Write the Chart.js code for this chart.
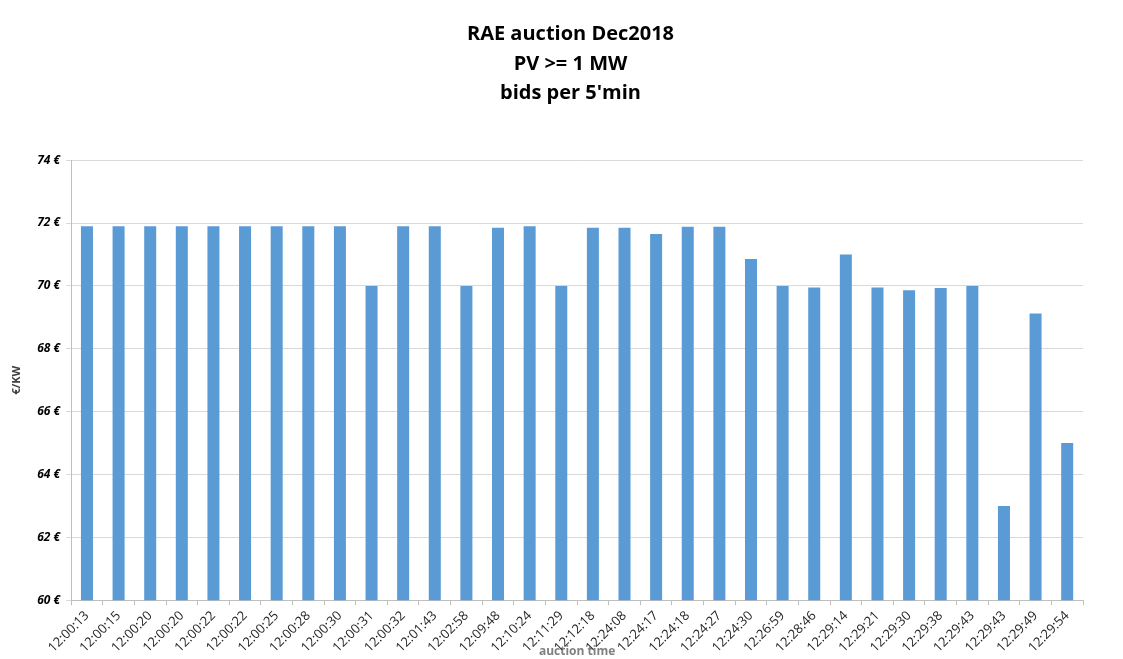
<!DOCTYPE html>
<html>
<head>
    <title>RAE auction Dec2018</title>
    <style type="text/css">
        body { margin: 0; background: #ffffff; }
        #wrap { width: 1123px; height: 659px; position: relative; }
    </style>
</head>
<body>
    <div id="wrap"><canvas id="chartContainer"></canvas></div>
    <script src="https://cdn.jsdelivr.net/npm/chart.js@4.4.0/dist/chart.umd.min.js"></script>
    <script>
        var bidTimes = ['12:00:13', '12:00:15', '12:00:20', '12:00:20', '12:00:22', '12:00:22', '12:00:25', '12:00:28',
            '12:00:30', '12:00:31', '12:00:32', '12:01:43', '12:02:58', '12:09:48', '12:10:24', '12:11:29',
            '12:12:18', '12:24:08', '12:24:17', '12:24:18', '12:24:27', '12:24:30', '12:26:59', '12:28:46',
            '12:29:14', '12:29:21', '12:29:30', '12:29:38', '12:29:43', '12:29:43', '12:29:49', '12:29:54'];
        var bidPrices = [71.9, 71.9, 71.9, 71.9, 71.9, 71.9, 71.9, 71.9,
            71.9, 70.0, 71.9, 71.9, 70.0, 71.85, 71.9, 70.0,
            71.85, 71.85, 71.65, 71.88, 71.88, 70.86, 70.0, 69.95,
            71.0, 69.95, 69.86, 69.93, 70.0, 63.0, 69.12, 65.0];
        var titleLines = ['RAE auction Dec2018', 'PV >= 1 MW', "bids per 5'min"];
        var yMin = 60, yMax = 74, yStep = 2;

        // excel centres the title a bit right of the canvas middle
        var titleShift = {
            id: 'titleShift',
            afterLayout: function (chart) {
                if (chart.titleBlock) {
                    chart.titleBlock.left += 24;
                    chart.titleBlock.right += 24;
                }
            }
        };

        var ctx = document.getElementById('chartContainer').getContext('2d');
        new Chart(ctx, {
            type: 'bar',
            data: {
                labels: bidTimes,
                datasets: [{
                    label: 'bids',
                    data: bidPrices,
                    backgroundColor: '#5b9bd5',
                    borderWidth: 0,
                    categoryPercentage: 1.0,
                    barPercentage: 0.38
                }]
            },
            plugins: [titleShift],
            options: {
                responsive: true,
                maintainAspectRatio: false,
                animation: false,
                layout: {
                    padding: { left: 10, right: 40, top: 6, bottom: 0 }
                },
                scales: {
                    x: {
                        grid: {
                            display: true,
                            drawOnChartArea: false,
                            tickLength: 5,
                            color: '#bfbfbf'
                        },
                        border: { color: '#bfbfbf' },
                        ticks: {
                            color: '#262626',
                            maxRotation: 45,
                            minRotation: 45,
                            autoSkip: false,
                            padding: 3,
                            font: { family: 'Open Sans', size: 13 }
                        },
                        title: {
                            display: true,
                            text: 'auction time',
                            color: '#808080',
                            padding: { top: -14, bottom: 0 },
                            font: { family: 'Open Sans', size: 12, weight: 'bold' }
                        }
                    },
                    y: {
                        min: yMin,
                        max: yMax,
                        grid: {
                            color: '#d9d9d9',
                            tickLength: 5
                        },
                        border: { color: '#bfbfbf' },
                        ticks: {
                            stepSize: yStep,
                            color: '#000000',
                            padding: 6,
                            font: { family: 'Open Sans', size: 12, weight: 'bold', style: 'italic' },
                            callback: function (value) { return value + ' €'; }
                        },
                        title: {
                            display: true,
                            text: '€/KW',
                            color: '#404040',
                            padding: { top: 0, bottom: 8 },
                            font: { family: 'Open Sans', size: 11, weight: 'bold' }
                        }
                    }
                },
                plugins: {
                    legend: { display: false },
                    tooltip: { enabled: false },
                    title: {
                        display: true,
                        text: titleLines,
                        color: '#000000',
                        padding: { top: 14, bottom: 52 },
                        font: { family: 'Open Sans', size: 20, weight: 'bold', lineHeight: 1.47 }
                    }
                }
            }
        });
    </script>
</body>
</html>
